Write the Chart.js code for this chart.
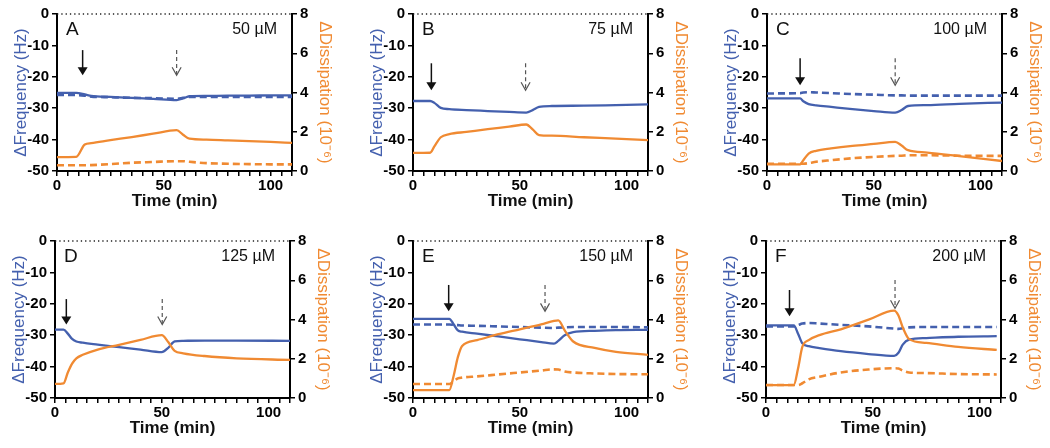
<!DOCTYPE html>
<html>
<head>
<meta charset="utf-8">
<title>QCM-D panels</title>
<script src="https://cdn.jsdelivr.net/npm/chart.js@4.4.0/dist/chart.umd.min.js"></script>
<style>
  body { margin: 0; background: #fff; width: 1050px; height: 448px; overflow: hidden; position: relative; }
  .panel { position: absolute; width: 340px; height: 224px; }
</style>
</head>
<body>
<div class="panel" style="left:0px;top:0px"><canvas id="chartA" width="340" height="224"></canvas></div>
<div class="panel" style="left:356px;top:0px"><canvas id="chartB" width="340" height="224"></canvas></div>
<div class="panel" style="left:710px;top:0px"><canvas id="chartC" width="340" height="224"></canvas></div>
<div class="panel" style="left:-2px;top:227px"><canvas id="chartD" width="340" height="224"></canvas></div>
<div class="panel" style="left:356px;top:227px"><canvas id="chartE" width="340" height="224"></canvas></div>
<div class="panel" style="left:709px;top:227px"><canvas id="chartF" width="340" height="224"></canvas></div>

<script>
  // panel labels
  var panelLetters = ['A', 'B', 'C', 'D', 'E', 'F'];
  var concLabels = ['50 µM', '75 µM', '100 µM', '125 µM', '150 µM', '200 µM'];

  // arrows (time in min, top/bottom in Hz on the frequency axis)
  var injectT = [12, 8.6, 15.5, 5.3, 16.7, 11];
  var injectTop = [-11.5, -15.7, -14.1, -18.5, -14, -15.6];
  var injectBottom = [-19.5, -24.3, -22.7, -26.6, -22.4, -24];
  var rinseT = [56, 52.7, 60, 50.2, 61.8, 60.4];
  var rinseTop = [-11.5, -15.7, -14.1, -18.5, -14, -12.4];
  var rinseBottom = [-19.5, -24.3, -22.7, -26.6, -22.4, -21.4];

  // A - 50 uM
  var timeA = [0, 9, 13, 16, 25, 35, 45, 56, 59, 62, 70, 80, 90, 100, 110];
  var freqA = [-25.1, -25.1, -25.6, -26.1, -26.4, -26.7, -27.0, -27.4, -26.9, -26.2, -26.1, -26.0, -26.0, -25.9, -25.9];
  var freqDashA = [-25.8, -25.8, -26.0, -26.3, -26.5, -26.7, -26.8, -27.0, -26.7, -26.4, -26.4, -26.4, -26.4, -26.4, -26.4];
  var dissA = [0.71, 0.72, 1.35, 1.42, 1.57, 1.73, 1.9, 2.08, 1.85, 1.65, 1.6, 1.56, 1.52, 1.48, 1.43];
  var dissDashA = [0.29, 0.29, 0.29, 0.3, 0.35, 0.42, 0.46, 0.5, 0.5, 0.47, 0.4, 0.37, 0.35, 0.34, 0.34];

  // B - 75 uM
  var timeB = [0, 8, 10, 13, 17, 25, 35, 45, 53, 56, 59, 65, 80, 95, 110];
  var freqB = [-27.7, -27.7, -28.3, -29.9, -30.3, -30.6, -30.9, -31.2, -31.4, -30.6, -29.6, -29.3, -29.2, -29.0, -28.8];
  var dissB = [0.92, 0.93, 1.25, 1.72, 1.88, 1.99, 2.13, 2.26, 2.37, 2.12, 1.83, 1.8, 1.72, 1.65, 1.57];

  // C - 100 uM
  var timeC = [0, 15.5, 17, 19.5, 23, 30, 40, 50, 60, 63, 66, 75, 90, 110];
  var freqC = [-26.9, -26.9, -27.8, -28.7, -29.1, -29.6, -30.3, -30.9, -31.4, -30.6, -29.3, -29.0, -28.6, -28.2];
  var freqDashC = [-25.3, -25.2, -25.0, -24.9, -25.0, -25.2, -25.5, -25.7, -25.9, -25.9, -26.0, -26.0, -26.0, -26.0];
  var dissC = [0.34, 0.34, 0.55, 0.89, 1.03, 1.15, 1.28, 1.38, 1.48, 1.3, 1.06, 0.94, 0.76, 0.51];
  var dissDashC = [0.37, 0.37, 0.37, 0.4, 0.47, 0.55, 0.65, 0.72, 0.77, 0.78, 0.8, 0.8, 0.78, 0.77];

  // D - 125 uM
  var timeD = [0, 4, 6, 8, 10, 13, 20, 30, 40, 50, 53, 56, 60, 70, 85, 110];
  var freqD = [-28.2, -28.2, -29.5, -31.2, -32.0, -32.4, -33.0, -33.8, -34.6, -35.4, -34.0, -32.0, -31.8, -31.7, -31.7, -31.8];
  var dissD = [0.72, 0.75, 1.3, 1.75, 2.02, 2.2, 2.47, 2.71, 2.96, 3.2, 2.85, 2.4, 2.28, 2.14, 2.02, 1.94];

  // E - 150 uM
  var timeE = [0, 17, 19, 21, 23, 30, 40, 50, 60, 66, 68, 71, 75, 85, 95, 110];
  var freqE = [-24.8, -24.8, -26.5, -28.5, -28.9, -29.5, -30.4, -31.3, -32.2, -32.7, -31.8, -30.0, -29.0, -28.6, -28.4, -28.3];
  var freqDashE = [-26.6, -26.6, -26.7, -26.8, -26.9, -27.0, -27.2, -27.4, -27.6, -27.7, -27.6, -27.5, -27.4, -27.4, -27.4, -27.5];
  var dissE = [0.4, 0.4, 1.12, 2.08, 2.65, 2.95, 3.25, 3.5, 3.75, 3.93, 3.96, 3.45, 2.88, 2.55, 2.35, 2.2];
  var dissDashE = [0.71, 0.71, 0.85, 1.0, 1.04, 1.1, 1.2, 1.3, 1.4, 1.46, 1.45, 1.35, 1.3, 1.25, 1.22, 1.21];

  // F - 200 uM
  var timeF = [0, 13, 15, 17, 20, 25, 35, 48, 60, 62, 64, 67, 75, 90, 108];
  var freqF = [-26.9, -26.9, -29.5, -32.6, -33.5, -34.1, -35.1, -36.0, -36.6, -35.6, -33.0, -31.4, -30.9, -30.5, -30.3];
  var freqDashF = [-27.2, -27.2, -26.8, -26.3, -26.1, -26.3, -26.7, -27.2, -27.9, -28.0, -27.8, -27.5, -27.4, -27.4, -27.4];
  var dissF = [0.66, 0.66, 1.5, 2.6, 2.95, 3.2, 3.5, 3.99, 4.45, 4.2, 3.6, 3.0, 2.81, 2.6, 2.45];
  var dissDashF = [0.66, 0.66, 0.66, 0.75, 0.95, 1.08, 1.3, 1.45, 1.52, 1.5, 1.4, 1.3, 1.27, 1.22, 1.2];

  var BLUE = '#4460ae';
  var ORANGE = '#f08a32';
  var FONT = "'Liberation Sans', Arial, sans-serif";

  Chart.defaults.font.family = FONT;
  Chart.defaults.color = '#000';

  function pts(t, v) {
    return t.map(function (x, i) { return { x: x, y: v[i] }; });
  }

  function drawArrow(ctx, x, y1, y2, dashed) {
    ctx.save();
    if (dashed) {
      ctx.strokeStyle = '#555';
      ctx.lineWidth = 1.2;
      ctx.setLineDash([4, 3]);
      ctx.beginPath(); ctx.moveTo(x, y1); ctx.lineTo(x, y2 - 1); ctx.stroke();
      ctx.setLineDash([]);
      ctx.beginPath();
      ctx.moveTo(x - 4.5, y2 - 8); ctx.lineTo(x, y2); ctx.lineTo(x + 4.5, y2 - 8);
      ctx.stroke();
    } else {
      ctx.strokeStyle = '#111';
      ctx.fillStyle = '#111';
      ctx.lineWidth = 1.5;
      ctx.beginPath(); ctx.moveTo(x, y1); ctx.lineTo(x, y2 - 6); ctx.stroke();
      ctx.beginPath();
      ctx.moveTo(x - 5, y2 - 8); ctx.lineTo(x + 5, y2 - 8); ctx.lineTo(x, y2);
      ctx.closePath(); ctx.fill();
    }
    ctx.restore();
  }

  var panelDecor = {
    id: 'panelDecor',
    beforeDatasetsDraw: function (chart, args, opts) {
      var ctx = chart.ctx, a = chart.chartArea;
      var y0 = chart.scales.y.getPixelForValue(0);
      ctx.save();
      ctx.strokeStyle = '#222';
      ctx.lineWidth = 1.3;
      ctx.setLineDash([1.3, 3]);
      ctx.beginPath(); ctx.moveTo(a.left, y0); ctx.lineTo(a.right, y0); ctx.stroke();
      ctx.restore();
    },
    afterDraw: function (chart, args, opts) {
      var ctx = chart.ctx, a = chart.chartArea, i = opts.index;
      var xs = chart.scales.x, ys = chart.scales.y;
      ctx.save();
      ctx.fillStyle = '#111';
      ctx.textBaseline = 'middle';
      ctx.font = '19px ' + FONT;
      ctx.textAlign = 'left';
      ctx.fillText(panelLetters[i], a.left + 9, a.top + 16);
      ctx.font = '16px ' + FONT;
      ctx.textAlign = 'right';
      ctx.fillText(concLabels[i], a.right - 15, a.top + 16);
      ctx.restore();
      drawArrow(ctx, xs.getPixelForValue(injectT[i]), ys.getPixelForValue(injectTop[i]), ys.getPixelForValue(injectBottom[i]), false);
      drawArrow(ctx, xs.getPixelForValue(rinseT[i]), ys.getPixelForValue(rinseTop[i]), ys.getPixelForValue(rinseBottom[i]), true);
    }
  };

  function makeChart(id, index, time, freq, freqDash, diss, dissDash) {
    var datasets = [];
    if (freqDash) {
      datasets.push({ label: 'Frequency (dashed)', data: pts(time, freqDash), yAxisID: 'y',
        borderColor: BLUE, borderWidth: 2.6, borderDash: [7, 4], order: 4 });
    }
    datasets.push({ label: 'Frequency', data: pts(time, freq), yAxisID: 'y',
      borderColor: BLUE, borderWidth: 2.3, order: 3 });
    if (dissDash) {
      datasets.push({ label: 'Dissipation (dashed)', data: pts(time, dissDash), yAxisID: 'y2',
        borderColor: ORANGE, borderWidth: 2.6, borderDash: [7, 4], order: 2 });
    }
    datasets.push({ label: 'Dissipation', data: pts(time, diss), yAxisID: 'y2',
      borderColor: ORANGE, borderWidth: 2.3, order: 1 });

    datasets.forEach(function (d) {
      d.pointRadius = 0;
      d.fill = false;
      d.cubicInterpolationMode = 'monotone';
    });

    var tickFont = { size: 15, weight: 'bold' };
    var axisGrid = { drawOnChartArea: false, drawTicks: true, tickLength: 5, color: '#000', lineWidth: 1.5 };
    var axisBorder = { display: true, color: '#000', width: 2 };

    return new Chart(document.getElementById(id), {
      type: 'line',
      data: { datasets: datasets },
      plugins: [panelDecor],
      options: {
        responsive: false,
        animation: false,
        layout: { padding: { top: 14, left: 0, right: 0, bottom: 0 } },
        plugins: {
          legend: { display: false },
          tooltip: { enabled: false },
          panelDecor: { index: index }
        },
        scales: {
          x: {
            type: 'linear', min: 0, max: 110,
            afterFit: function (s) { s.height = 53; },
            ticks: {
              stepSize: 5, autoSkip: false, maxRotation: 0, padding: 1, font: tickFont,
              callback: function (v) { return v % 50 === 0 ? v : ''; }
            },
            grid: axisGrid,
            border: axisBorder,
            title: { display: true, text: 'Time (min)', color: '#111',
              font: { size: 17, weight: 'bold' }, padding: { top: 0, bottom: 12 } }
          },
          y: {
            position: 'left', min: -50, max: 0,
            afterFit: function (s) { s.width = 57; },
            ticks: { stepSize: 10, padding: 3, font: tickFont },
            grid: axisGrid,
            border: axisBorder,
            title: { display: true, text: 'ΔFrequency (Hz)', color: BLUE,
              font: { size: 17 }, padding: { top: 11, bottom: 0 } }
          },
          y2: {
            position: 'right', min: 0, max: 8,
            afterFit: function (s) { s.width = 48; },
            ticks: { stepSize: 2, padding: 3, font: tickFont },
            grid: axisGrid,
            border: axisBorder,
            title: { display: true, text: 'ΔDissipation (10⁻⁶)', color: ORANGE,
              font: { size: 17 }, padding: { top: 5, bottom: 0 } }
          }
        }
      }
    });
  }

  makeChart('chartA', 0, timeA, freqA, freqDashA, dissA, dissDashA);
  makeChart('chartB', 1, timeB, freqB, null, dissB, null);
  makeChart('chartC', 2, timeC, freqC, freqDashC, dissC, dissDashC);
  makeChart('chartD', 3, timeD, freqD, null, dissD, null);
  makeChart('chartE', 4, timeE, freqE, freqDashE, dissE, dissDashE);
  makeChart('chartF', 5, timeF, freqF, freqDashF, dissF, dissDashF);
</script>
</body>
</html>
